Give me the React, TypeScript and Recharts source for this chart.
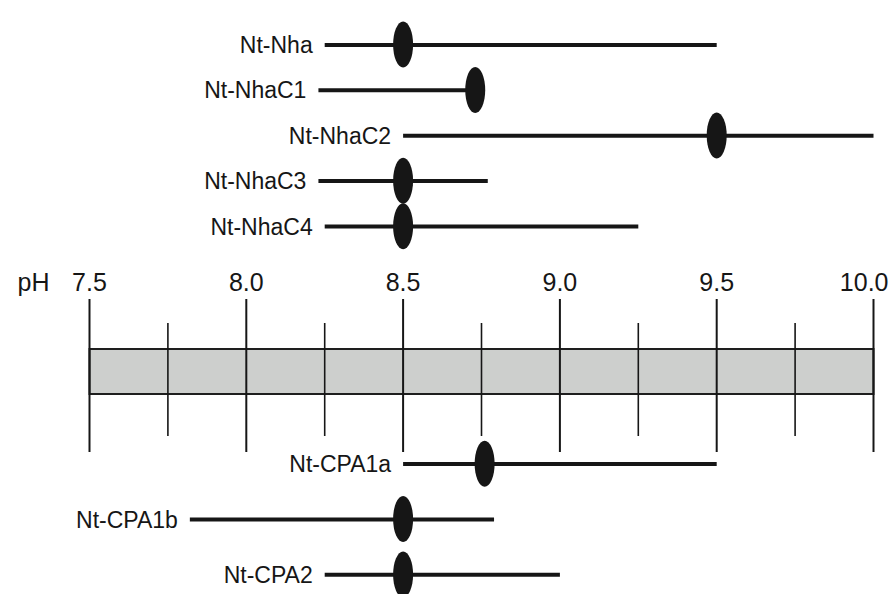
import React from 'react';
import { ComposedChart, Bar, Scatter, XAxis, YAxis, LabelList } from 'recharts';

// pH ruler
const phDomain: [number, number] = [7.5, 10];
const rulerTicks = [7.5, 7.75, 8.0, 8.25, 8.5, 8.75, 9.0, 9.25, 9.5, 9.75, 10.0];

// Upper group (Nha family): pH range low/high and optimum
const upperNames = ['Nt-Nha', 'Nt-NhaC1', 'Nt-NhaC2', 'Nt-NhaC3', 'Nt-NhaC4'];
const upperLow = [8.25, 8.23, 8.5, 8.23, 8.25];
const upperHigh = [9.5, 8.73, 10.0, 8.77, 9.25];
const upperOpt = [8.5, 8.73, 9.5, 8.5, 8.5];

// Lower group (CPA family)
const lowerNames = ['Nt-CPA1a', 'Nt-CPA1b', 'Nt-CPA2'];
const lowerLow = [8.5, 7.82, 8.25];
const lowerHigh = [9.5, 8.79, 9.0];
const lowerOpt = [8.76, 8.5, 8.5];

const build = (names: string[], low: number[], high: number[], opt: number[]) =>
  names.map((name, i) => ({ name, range: [low[i], high[i]], opt: opt[i] }));

const upperRows = build(upperNames, upperLow, upperHigh, upperOpt);
const lowerRows = build(lowerNames, lowerLow, lowerHigh, lowerOpt);
const rulerRows = [{ name: 'pH', range: [phDomain[0], phDomain[1]] }];

const INK = '#161616';
const W = 893;
const H = 594;

const Ellipse = (p: any) => <ellipse cx={p.cx} cy={p.cy} rx={10} ry={23} fill={INK} />;

const RulerTick = (props: any) => {
  const { x, y, payload } = props;
  const v = payload.value as number;
  const major = Math.abs(v * 2 - Math.round(v * 2)) < 1e-6;
  const isLast = v === rulerTicks[rulerTicks.length - 1];
  return (
    <g>
      {major && (
        <text
          x={isLast ? x + 15 : x}
          y={y - 8}
          textAnchor={isLast ? 'end' : 'middle'}
          fontSize={25}
          fill={INK}
        >
          {v.toFixed(1)}
        </text>
      )}
      <line
        x1={x}
        x2={x}
        y1={major ? y : y + 24}
        y2={major ? y + 153 : y + 137}
        stroke={INK}
        strokeWidth={major ? 2 : 1.6}
      />
    </g>
  );
};

const RowChart = ({ rows, margin }: { rows: any[]; margin: any }) => (
  <ComposedChart width={W} height={H} data={rows} layout="vertical" margin={margin}>
    <XAxis type="number" domain={phDomain} hide />
    <YAxis type="category" dataKey="name" hide />
    <Bar dataKey="range" barSize={4} fill={INK} isAnimationActive={false}>
      <LabelList dataKey="name" position="left" offset={12} fontSize={23} fill={INK} />
    </Bar>
    <Scatter dataKey="opt" shape={Ellipse} isAnimationActive={false} />
  </ComposedChart>
);

export default function App() {
  return (
    <div
      style={{
        position: 'absolute',
        left: 0,
        top: 0,
        width: W,
        height: H,
        overflow: 'hidden',
        background: '#fff',
        fontFamily: '"Liberation Sans", Arial, Helvetica, sans-serif',
      }}
    >
      <div style={{ position: 'absolute', left: 0, top: 0 }}>
        <ComposedChart
          width={W}
          height={H}
          data={rulerRows}
          layout="vertical"
          margin={{ top: 255, right: 19.5, bottom: 150, left: 89.5 }}
        >
          <YAxis type="category" dataKey="name" hide />
          <Bar
            dataKey="range"
            barSize={45}
            fill="#cdcfcd"
            stroke="#1e1e1e"
            strokeWidth={2}
            isAnimationActive={false}
          />
          <XAxis
            type="number"
            domain={phDomain}
            ticks={rulerTicks}
            interval={0}
            orientation="top"
            height={44}
            tick={RulerTick}
            tickSize={0}
            tickMargin={0}
            axisLine={false}
            tickLine={false}
            label={{ value: 'pH', position: 'left', offset: 40, fontSize: 25, fill: INK, dy: 5 }}
          />
        </ComposedChart>
      </div>
      <div style={{ position: 'absolute', left: 0, top: 0 }}>
        <RowChart rows={upperRows} margin={{ top: 21.9, right: 19.5, bottom: 345.1, left: 89.5 }} />
      </div>
      <div style={{ position: 'absolute', left: 0, top: 0 }}>
        <RowChart rows={lowerRows} margin={{ top: 436.1, right: 19.5, bottom: -8.1, left: 89.5 }} />
      </div>
    </div>
  );
}
